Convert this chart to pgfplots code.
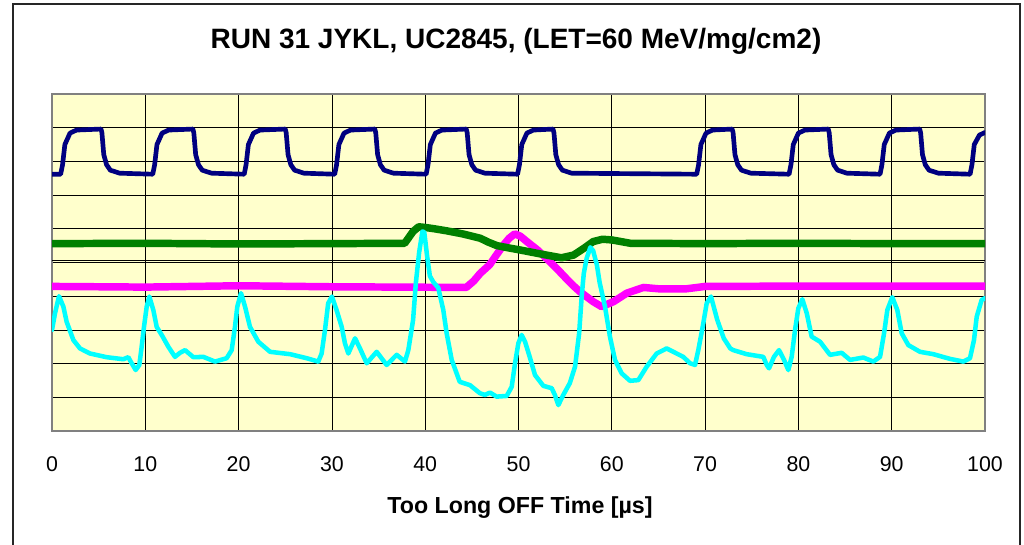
\documentclass[border=0pt]{standalone}
\usepackage{fontspec}
\setmainfont{Liberation Sans}
\usepackage{pgfplots}
\pgfplotsset{compat=1.18}
\definecolor{bgyellow}{HTML}{FFFFCC}
\definecolor{navyc}{HTML}{000080}
\definecolor{greenc}{HTML}{008000}
\definecolor{magc}{HTML}{FF00FF}
\definecolor{cyanc}{HTML}{00FFFF}
\begin{document}
\begin{tikzpicture}[x=1pt,y=1pt]
\useasboundingbox (0,0) rectangle (768,408);
\fill[white] (0,0) rectangle (768,408);
\draw[line width=1.5pt, black!85] (9.75,-10) -- (9.75,405) -- (765,405) -- (765,-10);
\begin{axis}[at={(39pt,84.75pt)}, anchor=south west,
  width=699.75pt, height=252.75pt, scale only axis,
  xmin=0, xmax=100, ymin=0, ymax=10,
  xtick={0,10,...,100}, ytick={0,1,...,10}, yticklabels={},
  extra y ticks={5.07}, extra y tick labels={}, extra y tick style={grid=major},
  grid=major, major grid style={black, line width=0.6pt},
  axis line style={draw=gray, line width=1.5pt},
  tick style={draw=none},
  axis background/.style={fill=bgyellow},
  xticklabel style={font=\fontsize{16}{19}\selectfont, anchor=base, yshift=-30pt},
  /pgf/number format/assume math mode=true,
  every axis plot/.append style={line join=round, line cap=round},
]
% magenta
\addplot[magc, line width=5.6pt] coordinates {
(0,4.29) (10,4.27) (20,4.31) (30,4.28) (44.4,4.26) (45.2,4.45) (45.9,4.68) (46.9,4.93) (47.7,5.25) (48.4,5.52) (49.0,5.72) (49.6,5.85) (50.2,5.78) (50.9,5.62) (52.0,5.38) (53.0,5.12) (54.1,4.82) (55.2,4.5) (56.0,4.28) (56.6,4.13) (58.0,3.84) (58.9,3.69) (60.2,3.84) (61.6,4.09) (63.4,4.26) (65,4.22) (68,4.22) (70,4.29) (80,4.3) (90,4.3) (100,4.3)
};
% green
\addplot[greenc, line width=5.6pt] coordinates {
(0,5.56) (10,5.57) (20,5.55) (30,5.56) (37.8,5.57) (38.7,5.92) (39.3,6.06) (40.0,6.04) (41.0,6.0) (42.3,5.94) (44.0,5.85) (45.9,5.72) (46.8,5.6) (47.7,5.5) (49.0,5.43) (50.2,5.37) (51.5,5.3) (53.0,5.22) (54.6,5.14) (55.9,5.22) (57.0,5.42) (58.0,5.62) (59.0,5.69) (60.0,5.67) (62.0,5.57) (70,5.56) (80,5.57) (90,5.56) (100,5.56)
};
% navy
\addplot[navyc, line width=3.5pt] coordinates {
(0,7.62)
(0.93,7.62) (1.13,7.9) (1.38,8.5) (1.93,8.84) (2.63,8.93) (5.25,8.96) (5.35,8.85) (5.55,8.2) (5.85,7.9) (6.25,7.74) (7.25,7.65)
(10.8,7.62) (11.0,7.9) (11.25,8.5) (11.8,8.84) (12.5,8.93) (15.1,8.96) (15.2,8.85) (15.4,8.2) (15.7,7.9) (16.1,7.74) (17.1,7.65)
(20.6,7.62) (20.8,7.9) (21.05,8.5) (21.6,8.84) (22.3,8.93) (25.0,8.96) (25.1,8.85) (25.3,8.2) (25.6,7.9) (26.0,7.74) (27.0,7.65)
(30.3,7.62) (30.5,7.9) (30.75,8.5) (31.3,8.84) (32.0,8.93) (34.6,8.96) (34.7,8.85) (34.9,8.2) (35.2,7.9) (35.6,7.74) (36.6,7.65)
(40.1,7.62) (40.3,7.9) (40.55,8.5) (41.1,8.84) (41.8,8.93) (44.4,8.96) (44.5,8.85) (44.7,8.2) (45.0,7.9) (45.4,7.74) (46.4,7.65)
(49.9,7.62) (50.1,7.9) (50.35,8.5) (50.9,8.84) (51.6,8.93) (53.7,8.96) (53.8,8.85) (54.0,8.2) (54.3,7.9) (54.7,7.74) (55.7,7.65)
(69.1,7.62) (69.3,7.9) (69.55,8.5) (70.1,8.84) (70.8,8.93) (72.9,8.96) (73.0,8.85) (73.2,8.2) (73.5,7.9) (73.9,7.74) (74.9,7.65)
(79.0,7.62) (79.2,7.9) (79.45,8.5) (80.0,8.84) (80.7,8.93) (83.2,8.96) (83.3,8.85) (83.5,8.2) (83.8,7.9) (84.2,7.74) (85.2,7.65)
(88.75,7.62) (88.95,7.9) (89.2,8.5) (89.75,8.84) (90.45,8.93) (93.0,8.96) (93.1,8.85) (93.3,8.2) (93.6,7.9) (94.0,7.74) (95.0,7.65)
(98.4,7.62) (98.6,7.9) (98.85,8.5) (99.4,8.78) (100,8.86)
};
% cyan
\addplot[cyanc, line width=3.4pt] coordinates {
(0,3.0) (0.32,3.49) (0.75,4.0) (1.22,3.69) (1.57,3.24) (2.29,2.70) (3.0,2.45) (4.07,2.30) (5.86,2.19) (7.64,2.13) (8.18,2.19) (8.54,2.01) (8.97,1.81) (9.36,1.96) (9.61,2.50) (9.86,3.09) (10.15,3.69) (10.43,3.99) (10.86,3.59) (11.22,3.09) (11.76,2.85) (12.47,2.50) (13.18,2.20) (13.72,2.32) (14.26,2.40) (15.15,2.19) (16.22,2.20) (17.47,2.06) (18.72,2.16) (19.26,2.40) (19.61,3.09) (19.86,3.69) (20.26,4.09) (20.69,3.69) (21.22,3.09) (22.11,2.65) (23.37,2.35) (25.51,2.28) (27.3,2.16) (28.54,2.06) (28.9,2.30) (29.26,3.0) (29.6,3.79) (30.0,3.99) (30.5,3.59) (31.05,3.09) (31.4,2.60) (31.76,2.30) (32.48,2.75) (33.01,2.45) (33.73,2.01) (34.8,2.35) (35.87,1.96) (36.94,2.26) (37.83,2.06) (38.19,2.40) (38.7,3.29) (39.0,4.4) (39.35,5.3) (39.7,5.92) (39.9,5.9) (40.2,5.2) (40.5,4.6) (40.87,4.42) (41.4,4.25) (41.94,3.59) (42.3,2.90) (42.84,2.11) (43.7,1.46) (44.8,1.36) (45.87,1.12) (46.4,1.07) (46.94,1.14) (47.66,1.02) (48.73,1.04) (49.27,1.31) (49.63,2.01) (49.98,2.60) (50.34,2.85) (50.7,2.65) (51.2,2.20) (51.77,1.66) (52.66,1.34) (53.56,1.27) (53.9,1.07) (54.27,0.77) (54.8,1.07) (55.5,1.42) (56.06,1.91) (56.5,2.90) (56.77,3.99) (57.0,4.68) (57.3,5.12) (57.7,5.45) (58.0,5.35) (58.4,4.93) (58.7,4.4) (59.27,3.69) (59.8,2.80) (60.34,2.11) (61.06,1.71) (61.95,1.49) (62.84,1.51) (63.74,1.91) (64.81,2.30) (65.88,2.45) (66.95,2.30) (67.66,2.20) (68.38,2.01) (68.92,1.96) (69.27,2.40) (69.74,3.09) (70.17,3.79) (70.63,3.99) (71.3,3.3) (72.0,2.75) (72.7,2.45) (73.02,2.40) (74.45,2.28) (76.24,2.20) (76.6,1.96) (76.85,1.86) (77.38,2.20) (77.92,2.40) (78.46,2.11) (78.92,1.81) (79.28,2.20) (79.64,3.0) (79.99,3.64) (80.42,3.91) (80.9,3.49) (81.42,2.80) (82.32,2.65) (83.39,2.26) (84.64,2.32) (85.53,2.11) (86.96,2.18) (88.03,2.06) (88.75,2.20) (89.18,2.90) (89.53,3.59) (90.06,3.97) (90.6,3.59) (91.07,2.90) (91.78,2.55) (93.03,2.35) (94.46,2.28) (96.25,2.14) (97.68,2.06) (98.39,2.16) (98.82,2.70) (99.11,3.39) (99.64,3.89) (100,3.94)
};
\end{axis}
\node[anchor=base, font=\bfseries\fontsize{21}{25}\selectfont] at (387,371.25) {RUN 31 JYKL, UC2845, (LET=60 MeV/mg/cm2)};
\node[anchor=base, font=\bfseries\fontsize{17.4}{20}\selectfont] at (390,23.25) {Too Long OFF Time [µs]};
\end{tikzpicture}
\end{document}
